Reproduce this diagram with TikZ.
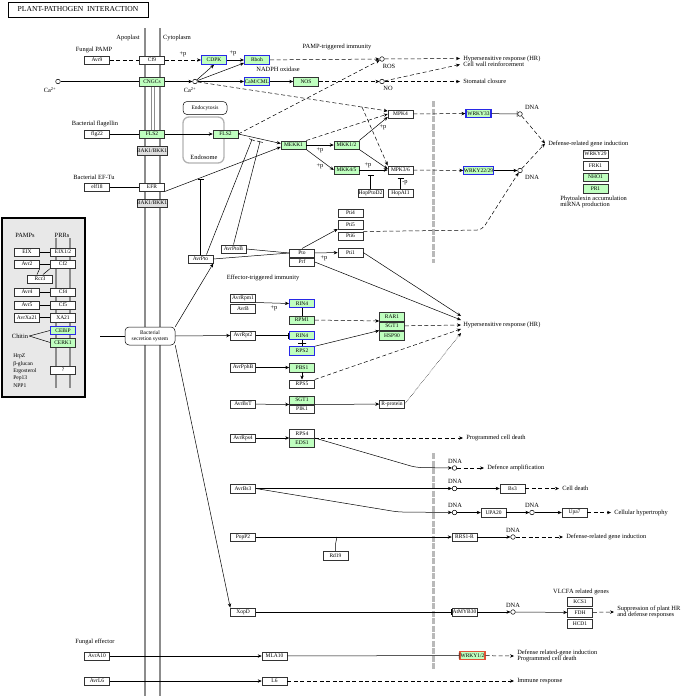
\documentclass[tikz,border=0pt]{standalone}
\usepackage{fontspec}
\setmainfont{Liberation Serif}
\usepackage{tikz}
\usetikzlibrary{positioning,shapes,arrows.meta}
\definecolor{keggreen}{RGB}{191,255,191}
\definecolor{keggblue}{RGB}{40,40,230}
\definecolor{keggred}{RGB}{225,85,55}
\definecolor{membgray}{RGB}{140,140,140}
\definecolor{barrgray}{RGB}{185,185,185}
\newcommand\genefont{\fontsize{5.5}{6}\selectfont}
\newcommand\lblfont{\fontsize{6.4}{6.8}\selectfont}
\newcommand\titlefont{\fontsize{7.6}{8}\selectfont}
\tikzset{
    gene/.style={
        rectangle,
        draw=black!80,
        fill=white,
        minimum width=25pt,
        minimum height=8.5pt,
        inner sep=0pt,
        font=\genefont
    },
    ggene/.style={gene, fill=keggreen},
    bgene/.style={gene, fill=keggreen, draw=keggblue, line width=1.1pt},
    rgene/.style={gene, fill=keggreen, draw=keggred, line width=1.1pt},
    cpd/.style={circle, draw=black, fill=white, minimum size=4.6pt, inner sep=0pt},
    lbl/.style={font=\lblfont, inner sep=1pt},
    endlbl/.style={lbl, anchor=west, inner sep=3pt},
    arrow/.style={->, >={Stealth[length=4pt,width=3.4pt]}},
    link/.style={dash pattern=on 4pt off 2.5pt},
    indirect/.style={arrow, link},
    inhib/.style={-{Bar[width=6pt]}},
    membrane/.style={draw=membgray, line width=2.8pt},
    barrier/.style={draw=barrgray, line width=3pt, dash pattern=on 6pt off 1.5pt}
}

\begin{document}
\begin{tikzpicture}[x=1pt, y=-1pt, node distance=0pt, line width=0.5pt]
\useasboundingbox (0,0) rectangle (685,696);

% membranes and nuclear barriers
\draw[membrane] (145,28) -- (145,696);
\draw[membrane] (160,28) -- (160,696);
\draw[membgray, line width=0.5pt] (151,85) -- (151,130);
\draw[membgray, line width=0.5pt] (154,85) -- (154,130);
\draw[barrier] (433,101) -- (433,263);
\draw[barrier] (433,453) -- (433,669);

\node (title) [draw, line width=1pt, minimum width=140pt, minimum height=15pt, font=\titlefont] at (78,9.5) {PLANT-PATHOGEN\ \ INTERACTION};
\node [lbl] at (128,38) {Apoplast};
\node [lbl] at (177,38) {Cytoplasm};

% PAMP-triggered immunity
\node [lbl] at (94,50) {Fungal PAMP};
\node (avr9) [gene] at (97,60) {Avr9};
\node (cf9) [gene] at (152,60) {Cf9};
\node (cdpk) [bgene] at (214,60) {CDPK};
\node (rboh) [bgene] at (257,60) {Rboh};
\node (ros) [cpd] at (382,59) {};
\node (ca1) [cpd] at (58,81.5) {};
\node (cngc) [ggene] at (152,81.5) {CNGCs};
\node (ca2) [cpd] at (195,81.5) {};
\node (camcml) [bgene] at (257,81.5) {CaM/CML};
\node (nos) [ggene] at (306,81.5) {NOS};
\node (no) [cpd] at (382,81.5) {};
\node [lbl] at (183,54) {+p};
\node [lbl] at (233,53) {+p};
\node [lbl] at (50,90) {Ca\textsuperscript{2+}};
\node [lbl] at (190,90) {Ca\textsuperscript{2+}};
\node [lbl] at (278,69.5) {NADPH oxidase};
\node [lbl] at (337,46.5) {PAMP-triggered immunity};
\node [lbl] at (389,66) {ROS};
\node [lbl] at (388,88) {NO};
\node (hr1) [endlbl] at (460,58.5) {Hypersensitive response (HR)};
\node (cwr) [endlbl] at (460,64.5) {Cell wall reinforcement};
\node (stom) [endlbl] at (460,81.5) {Stomatal closure};

\node (endo) [draw, rounded corners=4pt, minimum width=44pt, minimum height=13pt, inner sep=0pt, font=\genefont] at (205,108) {Endocytosis};
\draw[gray!60, line width=1.3pt, rounded corners=6pt] (183,117) rectangle (224,163);
\node [lbl] at (204,157) {Endosome};

\node [lbl] at (95,124) {Bacterial flagellin};
\node (flg22) [gene] at (97,134) {flg22};
\node (fls2) [ggene] at (152,134) {FLS2};
\node (bak1a) [gene, fill=gray!25] at (152,150.5) {BAK1/BKK1};
\node (fls2e) [ggene] at (225.5,134) {FLS2};
\node [lbl] at (94,177) {Bacterial EF-Tu};
\node (elf18) [gene] at (97,187) {elf18};
\node (efr) [gene] at (152,187) {EFR};
\node (bak1b) [gene, fill=gray!25] at (152,203) {BAK1/BKK1};

% MAPK cascade
\node (mekk1) [ggene] at (293.5,145) {MEKK1};
\node (mkk12) [ggene] at (346.5,145) {MKK1/2};
\node (mkk45) [ggene] at (346.5,170) {MKK4/5};
\node (mpk4) [gene] at (400.5,114) {MPK4};
\node (mpk36) [gene] at (400.5,170) {MPK3/6};
\node (hoppto) [gene] at (370.5,193) {HopPtoD2};
\node (hopai) [gene] at (400.5,193) {HopAI1};
\coordinate (br) at (362,107);
\coordinate (hopptoT) at (370.5,175);
\coordinate (hopaiT) at (400.5,177.5);
\node [lbl] at (320,150) {+p};
\node [lbl] at (320,166) {+p};
\node [lbl] at (383,127) {+p};
\node [lbl] at (368,165) {+p};
\node [lbl] at (405,183) {-p};

\node (wrky33) [bgene] at (478.5,113.5) {WRKY33};
\node (wrky2229) [bgene] at (478.5,170.5) {WRKY22/29};
\node (dna1) [cpd] at (520,114) {};
\node (dna2) [cpd] at (520,170.5) {};
\node [lbl] at (532,107.5) {DNA};
\node [lbl] at (532,177) {DNA};
\node (defg) [endlbl] at (545,143.5) {Defense-related gene induction};
\node (wrky29) [gene] at (595.5,154) {WRKY29};
\node (frk1) [gene, below=2.5pt of wrky29] {FRK1};
\node (nho1) [ggene, below=2.5pt of frk1] {NHO1};
\node (pr1) [ggene, below=2.5pt of nho1] {PR1};
\node [lbl, anchor=north west, align=left] at (559,194.5) {Phytoalexin accumulation\\miRNA production};

% Pto / Prf
\node (avrpto) [gene] at (200.5,259) {AvrPto};
\node (avrptob) [gene] at (233.5,249) {AvrPtoB};
\node (pto) [gene] at (302,253) {Pto};
\node (prf) [gene, below=0pt of pto] {Prf};
\node (pti4) [gene] at (350.5,213) {Pti4};
\node (pti5) [gene, below=2.5pt of pti4] {Pti5};
\node (pti6) [gene, below=2.5pt of pti5] {Pti6};
\node (pti1) [gene] at (350.5,252.5) {Pti1};
\node [lbl] at (324,258) {+p};
\coordinate (efrT) at (200.5,179);
\coordinate (flsT1) at (252,139.5);
\coordinate (flsT2) at (260,141.5);
\coordinate (ptic) at (482,230);

% effector-triggered immunity
\node [lbl] at (263,278) {Effector-triggered immunity};
\node (avrrpm1) [gene] at (243,298) {AvrRpm1};
\node (avrb) [gene, below=1.5pt of avrrpm1] {AvrB};
\node (rin4a) [bgene] at (302,303.5) {RIN4};
\node (rpm1) [ggene] at (302,320) {RPM1};
\node [lbl] at (274,308) {+p};
\node (rar1) [ggene] at (392,316.5) {RAR1};
\node (sgt1a) [ggene, below=0.5pt of rar1] {SGT1};
\node (hsp90) [ggene, below=0.5pt of sgt1a] {HSP90};
\node (avrrpt2) [gene] at (243,335.5) {AvrRpt2};
\node (rin4b) [bgene] at (302,335.5) {RIN4};
\node (rps2) [bgene] at (302,351) {RPS2};
\node (avrpphb) [gene] at (243,367.5) {AvrPphB};
\node (pbs1) [ggene] at (302,367.5) {PBS1};
\node (rps5) [gene] at (302,384) {RPS5};
\node (avrbst) [gene] at (243,404) {AvrBsT};
\node (sgt1b) [ggene] at (302,400) {SGT1};
\node (pik1) [gene, below=0pt of sgt1b] {PIK1};
\node (rprot) [gene] at (392,404) {R-protein};
\node (hr2) [endlbl] at (460,324.5) {Hypersensitive response (HR)};
\coordinate (hrin1) at (461,316);
\coordinate (hrin2) at (461,320);
\coordinate (hrin3) at (461,325);
\coordinate (hrin4) at (461,329);
\coordinate (hrin5) at (461,333);

\node (avrrps4) [gene] at (243,438) {AvrRps4};
\node (rps4) [gene] at (302,433.5) {RPS4};
\node (eds1) [ggene, below=0pt of rps4] {EDS1};
\node (pcd) [endlbl] at (463,438) {Programmed cell death};
\node (dna3) [cpd] at (454.5,468) {};
\node [lbl] at (455,461) {DNA};
\coordinate (edsc) at (416,467.5);
\node (defamp) [endlbl] at (484,468) {Defence amplification};

\node (avrbs3) [gene] at (243,488.5) {AvrBs3};
\node (dna4) [cpd] at (454.5,488.5) {};
\node [lbl] at (455,481) {DNA};
\node (bs3) [gene] at (512.5,488.5) {Bs3};
\node (celld) [endlbl] at (559,488.5) {Cell death};
\node (dna5) [cpd] at (454.5,512.5) {};
\node [lbl] at (455,505) {DNA};
\coordinate (bs3c) at (398,512);
\node (upa20) [gene] at (493.5,512.5) {UPA20};
\node (dna6) [cpd] at (532,512.5) {};
\node [lbl] at (532,505) {DNA};
\node (upa7) [gene] at (574.5,512.5) {Upa7};
\node (hypert) [endlbl] at (611,512.5) {Cellular hypertrophy};

\node (popp2) [gene] at (243,537) {PopP2};
\node (rd19) [gene] at (335.5,555.5) {Rd19};
\coordinate (rdT) at (337,537);
\node (rrs1) [gene] at (464.5,537) {RRS1-R};
\node (dna7) [cpd] at (513,537) {};
\node [lbl] at (513,530) {DNA};
\node (defg2) [endlbl] at (563,537) {Defense-related gene induction};

\node (xopd) [gene] at (243,612) {XopD};
\node (atmyb) [gene] at (464.5,612) {AtMYB30};
\node (dna8) [cpd] at (513,612) {};
\node [lbl] at (513,605) {DNA};
\node (kcs1) [gene] at (580,601.5) {KCS1};
\node (fdh) [gene, below=2pt of kcs1] {FDH};
\node (hcd1) [gene, below=2pt of fdh] {HCD1};
\node [lbl] at (581,592) {VLCFA related genes};
\node (suppr) [endlbl, align=left] at (614,612) {Suppression of plant HR\\and defense responses};

% fungal effector
\node [lbl] at (95,642) {Fungal effector};
\node (avra10) [gene] at (97,656) {AvrA10};
\node (mla10) [gene] at (274.5,656) {MLA10};
\node (wrky12) [rgene] at (472.5,655.5) {WRKY1/2};
\node (defprog) [endlbl, align=left] at (514,656) {Defense related-gene induction\\Programmed cell death};
\node (avrl6) [gene] at (97,681) {AvrL6};
\node (l6) [gene] at (274.5,681) {L6};
\node (immune) [endlbl] at (514,681) {Immune response};

% PRR panel
\draw[line width=1.2pt, fill=gray!18] (2,218) rectangle (85,397);
\draw[membrane, line width=2pt] (56,238) -- (56,388);
\draw[membrane, line width=2pt] (70,238) -- (70,388);
\node [lbl] at (25,235) {PAMPs};
\node [lbl] at (62,235) {PRRs};
\node (eix) [gene] at (27,252) {EIX};
\node (eix12) [gene] at (63,252) {EIX1/2};
\node (avr2) [gene] at (27,264) {Avr2};
\node (cf2) [gene] at (63,264) {Cf2};
\node (rcr3) [gene] at (40,279) {Rcr3};
\node (avr4) [gene] at (27,292) {Avr4};
\node (cf4) [gene] at (63,292) {Cf4};
\node (avr5) [gene] at (27,305) {Avr5};
\node (cf5) [gene] at (63,305) {Cf5};
\node (avrxa21) [gene] at (27,317.5) {AvrXa21};
\node (xa21) [gene] at (63,317.5) {XA21};
\node (cebip) [bgene] at (63,330.5) {CEBiP};
\node (cerk1) [ggene] at (63,342.5) {CERK1};
\node (chitin) [lbl] at (20,336) {Chitin};
\node (unk) [gene] at (63,370) {?};
\node [lbl, anchor=north west, align=left, font=\fontsize{5.6}{7.3}\selectfont] at (12,353) {HrpZ\\β-glucan\\Ergosterol\\Pep13\\NPP1};
\draw (eix) -- (eix12);
\draw (avr2) -- (cf2);
\draw (avr2.south east) -- ([xshift=-3pt]rcr3.north);
\draw (cf2.south west) -- ([xshift=3pt]rcr3.north);
\draw (avr4) -- (cf4);
\draw (avr5) -- (cf5);
\draw (avrxa21) -- (xa21);
\draw (chitin.east) -- (cebip.west);
\draw (chitin.east) -- (cerk1.west);

\node (secr) [draw, fill=white, rounded corners=4pt, minimum width=50pt, minimum height=18pt, inner sep=0pt, align=center, font=\genefont] at (150,336) {Bacterial\\secretion system};
\coordinate (secin) at (100,336);

% connectors: PTI
\draw[link] (avr9) -- (cf9);
\draw[indirect] (cf9) -- (cdpk);
\draw (ca1) -- (cngc);
\draw[arrow] (cngc) -- (ca2);
\draw[arrow] (ca2) -- (cdpk.south);
\draw[arrow] (ca2) -- ([yshift=-3pt]rboh.west);
\draw[arrow] (ca2) -- (camcml);
\draw[indirect] (ca2) -- ([yshift=3pt]mpk4.west);
\draw[indirect] (br) -- (mpk36.north west);
\draw[arrow] (cdpk) -- (rboh);
\draw[arrow] (camcml) -- (nos);
\draw[indirect] (rboh) -- (ros);
\draw[indirect] (nos) -- (no);
\draw[indirect] (ros) -- (hr1.west);
\draw[indirect] (no) -- (cwr.west);
\draw[indirect] (no) -- (stom.west);
\draw[indirect] (fls2e.east) -- (ros);
\draw (flg22) -- (fls2);
\draw[arrow] (fls2) -- (fls2e);
\draw[arrow] (fls2e.east) -- ([yshift=1.5pt]mekk1.west);
\draw (elf18) -- (efr);
\draw[arrow] (efr.south east) -- ([yshift=-2pt]mekk1.west);
\draw[arrow] (mekk1) -- (mkk12);
\draw[arrow] (mekk1.south east) -- (mkk45.west);
\draw[indirect] (mekk1.north east) -- (mpk4.west);
\draw[arrow] (mkk12.north east) -- ([yshift=-3pt]mpk4.west);
\draw[arrow] (mkk12.south east) -- ([yshift=1pt]mpk36.west);
\draw[arrow] (mkk45) -- (mpk36);
\draw[inhib] (hoppto) -- (hopptoT);
\draw[inhib] (hopai) -- (hopaiT);
\draw[indirect] (mpk4) -- (wrky33);
\draw[inhib] (wrky33) -- (dna1);
\draw[indirect] (mpk36) -- (wrky2229);
\draw[arrow] (wrky2229) -- (dna2);
\draw[indirect] (dna1) -- (defg.west);
\draw[indirect] (dna2) -- (defg.west);

% connectors: Pto
\draw (secin) -- (secr);
\draw[arrow] (secr.north east) -- (avrpto.south east);
\draw[inhib] (avrpto) -- (efrT);
\draw[inhib] ([xshift=6pt]avrpto.north) -- (flsT1);
\draw[inhib] (avrptob.north) -- (flsT2);
\draw (avrpto.east) -- (pto.west);
\draw (avrptob.east) -- (pto.west);
\draw[arrow] (pto.north) -- (pti5.south west);
\draw[arrow] (pto) -- (pti1);
\draw[indirect, rounded corners=5pt] (pti6.north east) -- (ptic) -- (dna2);
\draw[arrow] (pti1.east) -- (hrin1);
\draw[arrow] (prf.east) -- (hrin2);

% connectors: ETI
\draw[arrow] (secr.east) -- (avrrpt2.west);
\draw[arrow] (secr.south east) -- (xopd.north west);
\draw[arrow] (avrrpm1.south east) -- (rin4a.west);
\draw (rin4a) -- (rpm1);
\draw[indirect] (rpm1.east) -- (rar1.south west);
\draw[inhib] (avrrpt2) -- (rin4b);
\draw (rin4b) -- (rps2) node[midway, draw, minimum width=8pt, minimum height=0pt, inner sep=0pt] {};
\draw[arrow] (rps2.north east) -- (sgt1a.south west);
\draw[indirect] (sgt1a) -- (hrin3);
\draw[arrow] (avrpphb) -- (pbs1);
\draw[arrow] (pbs1) -- (rps5);
\draw[indirect] (rps5.north east) -- (hrin4);
\draw[arrow] (avrbst) -- (sgt1b.south west);
\draw[arrow] (sgt1b.south east) -- (rprot);
\draw[arrow, densely dotted] (rprot.east) -- (hrin5);
\draw[arrow] (avrrps4) -- (rps4.south west);
\draw[indirect] (rps4.south east) -- (pcd.west);
\draw[arrow, rounded corners=6pt] (eds1.north east) -- (edsc) -- (dna3);
\draw[indirect] (dna3) -- (defamp.west);
\draw[arrow] (avrbs3) -- (dna4);
\draw[arrow] (dna4) -- (bs3);
\draw[indirect] (bs3) -- (celld.west);
\draw[arrow, rounded corners=6pt] (avrbs3.east) -- (bs3c) -- (dna5);
\draw[arrow] (dna5) -- (upa20);
\draw[arrow] (upa20) -- (dna6);
\draw[arrow] (dna6) -- (upa7);
\draw[indirect] (upa7) -- (hypert.west);
\draw[arrow] (popp2) -- (rrs1);
\draw (rd19.north) -- ++(0,-7) -- (rdT);
\draw[arrow] (rrs1) -- (dna7);
\draw[indirect] (dna7) -- (defg2.west);
\draw[inhib] (xopd) -- (atmyb);
\draw[arrow] (atmyb) -- (dna8);
\draw[arrow] (dna8) -- (fdh);
\draw[indirect] (fdh) -- (suppr.west);
\draw[arrow] (avra10) -- (mla10);
\draw[inhib] (mla10) -- (wrky12);
\draw[indirect] (wrky12) -- (defprog.west);
\draw[arrow] (avrl6) -- (l6);
\draw[indirect] (l6) -- (immune.west);
\end{tikzpicture}
\end{document}
